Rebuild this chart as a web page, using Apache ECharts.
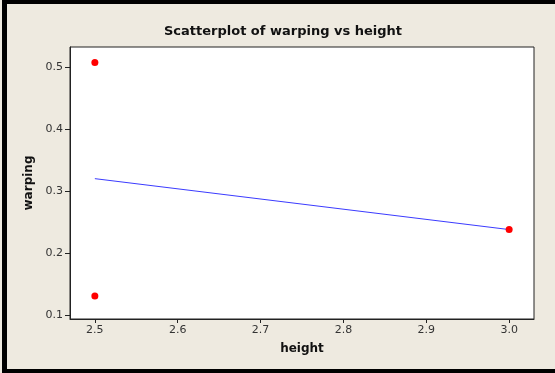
<!DOCTYPE html>
<html><head><meta charset="utf-8">
<script src="https://cdn.jsdelivr.net/npm/echarts@6/dist/echarts.min.js"></script>
<style>html,body{margin:0;padding:0;background:#ECE9DF;}#c{width:555px;height:373px;}</style>
</head><body><div id="c"></div>
<script>
const heights = [2.5, 2.5, 3.0];
const warpings = [0.507, 0.131, 0.238];
const fitX = [2.5, 3.0];
const fitY = [0.320, 0.238];
const xTicks = [2.5, 2.6, 2.7, 2.8, 2.9, 3.0];
const yTicks = [0.1, 0.2, 0.3, 0.4, 0.5];

const chart = echarts.init(document.getElementById('c'), null, {renderer: 'canvas'});
const font = 'Tahoma, "DejaVu Sans", sans-serif';
chart.setOption({
  backgroundColor: '#EEEAE0',
  animation: false,
  title: {
    text: 'Scatterplot of warping vs height',
    left: 278, top: 20, textAlign: 'center',
    textStyle: {fontFamily: font, fontSize: 13, fontWeight: 'bold', color: '#111'}
  },
  graphic: [
    {type: 'rect', shape: {x: 2, y: 0, width: 553, height: 4}, style: {fill: '#000'}, silent: true, z: 100},
    {type: 'rect', shape: {x: 2, y: 0, width: 5, height: 373}, style: {fill: '#000'}, silent: true, z: 100},
    {type: 'rect', shape: {x: 2, y: 369, width: 553, height: 4}, style: {fill: '#000'}, silent: true, z: 100}
  ],
  grid: {left: 70, top: 47, right: 21, bottom: 54, show: true, backgroundColor: '#fff', borderColor: '#222', borderWidth: 1},
  xAxis: {
    type: 'value', min: 2.47, max: 3.03,
    name: 'height', nameLocation: 'middle', nameGap: 24,
    nameTextStyle: {fontFamily: font, fontSize: 12, fontWeight: 'bold', color: '#111'},
    splitLine: {show: false},
    axisLine: {show: true, lineStyle: {color: '#222'}},
    axisTick: {show: true, inside: false, length: 4, customValues: xTicks, lineStyle: {color: '#222'}},
    axisLabel: {customValues: xTicks, formatter: v => v.toFixed(1), fontFamily: font, fontSize: 11, color: '#333', margin: 6}
  },
  yAxis: {
    type: 'value', min: 0.094, max: 0.532,
    name: 'warping', nameLocation: 'middle', nameGap: 28, nameRotate: 90,
    nameTextStyle: {fontFamily: font, fontSize: 12, fontWeight: 'bold', color: '#111'},
    splitLine: {show: false},
    axisLine: {show: true, lineStyle: {color: '#222'}},
    axisTick: {show: true, inside: false, length: 5, customValues: yTicks, lineStyle: {color: '#222'}},
    axisLabel: {customValues: yTicks, formatter: v => v.toFixed(1), fontFamily: font, fontSize: 11, color: '#333', margin: 7}
  },
  series: [
    {type: 'line', data: fitX.map((x, i) => [x, fitY[i]]), symbol: 'none',
     lineStyle: {color: '#3B3BFF', width: 1}, z: 2},
    {type: 'scatter', data: heights.map((x, i) => [x, warpings[i]]), symbol: 'circle', symbolSize: 7,
     itemStyle: {color: '#FF0000', opacity: 1}, z: 3}
  ]
});
</script></body></html>
